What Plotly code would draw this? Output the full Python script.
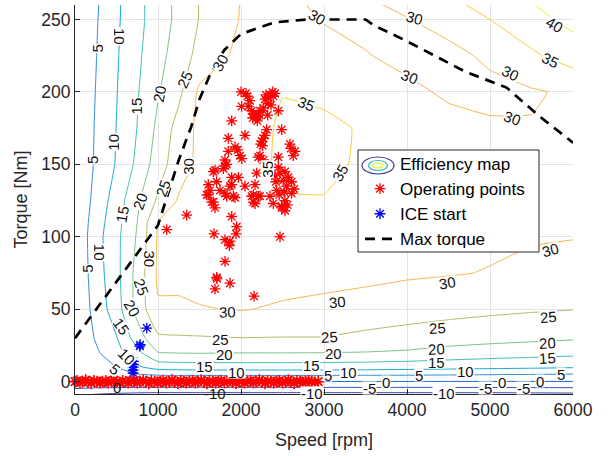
import plotly.graph_objects as go

# ---------------- data ----------------
speed_grid = [0, 250, 500, 750, 1000, 1250, 1500, 2000, 2500, 3000, 3500, 4000, 4500, 5000, 5500, 6000]
torque_grid = [-10, -5, 0, 5, 10, 20, 30, 50, 75, 100, 110, 125, 150, 175, 200, 225, 250, 260]

# efficiency [%] for each torque row (ascending) and speed column
eff_grid = [
    [-10.5, -11.5, -12.5, -13.2, -13.5, -13.5, -13.5, -13.5, -13.5, -13.5, -13.5, -13.5, -13.5, -13.5, -13.3, -13.0],
    [-5.3, -5.8, -6.1, -6.2, -6.3, -6.3, -6.3, -6.3, -6.3, -6.3, -6.3, -6.3, -6.2, -6.2, -6.1, -6.0],
    [-0.2, -0.2, -0.2, -0.2, -0.2, -0.2, -0.2, -0.2, -0.2, -0.2, -0.2, -0.2, -0.2, -0.2, -0.2, -0.2],
    [0.1, 1.5, 3.0, 4.8, 5.6, 5.8, 5.8, 5.8, 5.8, 5.8, 5.7, 5.6, 5.4, 5.2, 5.0, 4.7],
    [0.2, 2.5, 5.0, 9.2, 12.0, 12.4, 12.6, 12.7, 12.7, 12.6, 12.4, 12.0, 11.6, 11.2, 10.8, 10.4],
    [0.3, 4.2, 8.3, 13.6, 19.9, 20.2, 20.3, 20.1, 20.1, 20.0, 19.8, 19.4, 18.4, 17.6, 17.0, 16.4],
    [0.4, 5.4, 9.7, 17.4, 24.2, 24.5, 24.6, 24.9, 24.8, 24.8, 23.7, 22.8, 22.0, 21.5, 21.0, 20.5],
    [0.5, 6.7, 12.7, 21.7, 29.5, 29.4, 29.8, 30.2, 29.5, 29.0, 28.4, 27.5, 26.7, 26.0, 25.5, 25.1],
    [0.5, 7.6, 13.5, 21.7, 30.8, 31.0, 31.3, 31.8, 31.6, 31.3, 31.0, 30.6, 30.3, 29.8, 28.8, 27.8],
    [0.5, 8.0, 13.7, 20.5, 30.6, 31.3, 31.8, 32.8, 33.3, 33.0, 32.5, 32.0, 31.3, 30.8, 30.4, 30.2],
    [0.5, 7.5, 13.2, 20.0, 30.2, 31.2, 31.7, 32.9, 33.8, 33.7, 32.9, 32.2, 31.5, 31.0, 30.6, 30.6],
    [0.5, 6.5, 12.4, 19.1, 25.8, 30.5, 31.5, 33.0, 34.8, 34.8, 33.3, 32.5, 31.8, 31.2, 31.0, 31.3],
    [0.5, 5.6, 10.4, 16.1, 22.6, 28.0, 31.0, 33.3, 35.6, 36.0, 34.3, 33.0, 32.2, 31.7, 31.5, 32.3],
    [0.5, 5.4, 10.1, 15.1, 21.1, 27.0, 31.2, 33.2, 35.5, 36.0, 34.5, 33.0, 31.8, 30.8, 30.3, 32.5],
    [0.5, 5.1, 9.8, 14.6, 19.6, 23.8, 31.0, 32.7, 34.9, 34.0, 32.5, 31.2, 29.2, 28.5, 29.5, 30.8],
    [0.5, 4.8, 9.5, 14.1, 18.2, 22.6, 26.4, 31.5, 32.0, 32.0, 30.3, 28.5, 28.5, 31.0, 34.2, 37.2],
    [0.5, 4.5, 9.2, 13.6, 17.5, 21.3, 25.2, 30.3, 31.5, 29.7, 28.5, 29.8, 32.0, 35.0, 38.3, 41.5],
    [0.5, 4.3, 9.1, 13.6, 17.5, 21.3, 25.2, 30.2, 31.0, 29.3, 29.2, 31.1, 33.8, 36.6, 39.8, 42.0],
]

max_speed = [0, 1000, 1250, 1400, 1500, 1650, 1800, 2000, 2400, 2800, 3500, 3600, 4000, 4700, 5200, 5600, 6000]
max_torque = [30, 108, 153, 176, 195, 215, 229, 240, 248, 250, 250, 246, 235, 214, 203, 183, 165]

op_speed = [2000, 2076, 2108, 2008, 2088, 2128, 2169, 2221, 2197, 2141,
            2229, 2289, 2349, 2389, 2410, 2329, 2269, 2321, 2361, 2450,
            2380, 2150, 2200, 2060, 2330, 2300,
            1888, 1847, 2048, 1928, 1847, 1988, 1960, 2010, 2309, 2269,
            2237, 2289, 2250, 2229, 2209, 2269, 2490, 2590, 2651, 2630,
            2450, 2260, 2600,
            1807, 1787, 1827, 1807, 1667, 1707, 1606, 1888, 1968, 1888,
            2048, 2189, 2169, 2450, 2470, 2410, 2530, 2570, 2510, 2550,
            2610, 2530, 2610, 2640, 2209, 2129, 2169, 2389, 2490, 2349,
            2430, 2420, 2460, 2520, 1747, 1807, 1908, 1867, 1627, 1667,
            1587, 1687, 1606, 1828, 1928, 1647, 1687, 2149, 2229, 2149,
            2490, 2530, 2560,
            1346, 1888, 1948, 1940, 1105, 1675, 1807, 1867, 1860, 2470,
            1807, 1707, 1687, 1867, 2157, 1710]
op_torque = [200, 197, 194, 190, 190, 187, 184, 184, 180, 182,
             187, 195, 198, 197, 199, 192, 189, 184, 191, 187,
             200, 185, 183, 199, 196, 198,
             180, 168, 170, 162, 159, 156, 160, 154, 174, 168,
             164, 170, 166, 156, 155, 153, 174, 164, 159, 156,
             155, 163, 161,
             149, 147, 150, 153, 145, 138, 136, 141, 141, 136,
             135, 144, 136, 148, 144, 142, 145, 141, 139, 135,
             130, 125, 138, 133, 128, 128, 123, 123, 121, 128,
             132, 138, 129, 131, 132, 130, 128, 135, 132, 124,
             129, 146, 129, 128, 127, 124, 120, 129, 128, 124,
             120, 118, 122,
             115, 114, 107, 102, 105, 102, 98, 97, 94, 100,
             83, 72, 64, 68, 59, 71]

idle_speed = [0, 25, 60, 90, 130, 160, 195, 230, 265, 300,
              330, 370, 400, 440, 470, 505, 540, 575, 610, 640,
              680, 715, 750, 780, 820, 855, 890, 920, 960, 995,
              1030, 1060, 1100, 1135, 1170, 1200, 1240, 1275, 1310, 1340,
              1380, 1415, 1450, 1480, 1520, 1555, 1590, 1620, 1660, 1695,
              1730, 1760, 1800, 1835, 1870, 1900, 1940, 1975, 2010, 2040,
              2080, 2115, 2150, 2180, 2220, 2255, 2290, 2320, 2360, 2395,
              2430, 2460, 2500, 2535, 2570, 2600, 2640, 2675, 2710, 2740,
              2780, 2815, 2850, 2890, 2930]
idle_torque = [0, 0.5, -0.5, 0, 1, 0, -1, 0.5, 0, -0.5,
               0, 0.5, -0.5, 0, 1, 0, -1, 0.5, 0, -0.5,
               0, 0.5, -0.5, 0, 1, 0, -1, 0.5, 0, -0.5,
               0, 0.5, -0.5, 0, 1, 0, -1, 0.5, 0, -0.5,
               0, 0.5, -0.5, 0, 1, 0, -1, 0.5, 0, -0.5,
               0, 0.5, -0.5, 0, 1, 0, -1, 0.5, 0, -0.5,
               0, 0.5, -0.5, 0, 1, 0, -1, 0.5, 0, -0.5,
               0, 0.5, -0.5, 0, 1, 0, -1, 0.5, 0, -0.5,
               0, 0.5, 0, -0.5, 0]

ice_speed = [700, 700, 700, 700, 705, 780, 785, 865]
ice_torque = [6, 8, 10, 12, 14, 24.5, 25.5, 37]

# contour level labels: text, speed, torque, rotation (white background)
label_text = ['5', '10', '15', '20', '25', '30', '5', '10', '15', '20', '25', '30', '35',
              '35', '35', '30', '30', '30', '30', '30', '35', '40',
              '30', '30', '30', '30', '25', '25', '25', '25', '20', '20', '20', '20',
              '15', '15', '15', '15', '10', '10', '10',
              '5', '0', '-5', '-10', '5', '0', '-5', '-10', '5', '0', '-5',
              '5', '10', '15', '20', '25', '30', '5', '10']
label_speed = [277, 542, 747, 1024, 1325, 1747, 217, 458, 566, 783, 1060, 1361, 2313,
               2795, 3193, 2916, 4096, 4036, 5241, 5265, 5723, 5783,
               5723, 4482, 3157, 1843, 5699, 4373, 3072, 1747, 5687, 4361, 3120, 1800,
               5687, 4361, 2850, 1560, 3300, 4700, 1950,
               3050, 3750, 3550, 2850, 4150, 5150, 4950, 4450, 5850, 5600, 5400,
               480, 626, 566, 687, 807, 904, 145, 300]
label_torque = [230, 238, 190, 199, 209, 220, 153, 165, 116, 125, 134, 149, 147,
                192, 144, 252, 251, 210, 213, 182, 222, 246,
                91, 68, 55, 48, 44.7, 37, 31, 29.5, 26.7, 22.5, 19.5, 19,
                16.4, 13.6, 11.5, 11, 7, 7.4, 6.7,
                4.5, 0, -4.2, -7.7, 4.6, 0, -4.5, -7.7, 5.6, 0.3, -4.5,
                9, 17, 38, 51, 65, 85, 78, 89]
label_angle = [-90, 90, -90, -80, -65, -60, -90, -90, -80, -70, -70, -90, -90,
               20, -60, 30, 15, 20, 25, 20, 25, 30,
               -15, -10, -5, -2, -5, -3, -3, 0, -3, -3, 0, 0,
               -3, 0, 0, 0, 0, 0, 0,
               0, 0, 0, 0, 0, 0, 0, 0, 0, 0, 0,
               40, 45, 55, 60, 70, 90, -90, 90]

# labels lying under the idle band (no background)
under_text = ['0', '-10']
under_speed = [506, 1687]
under_torque = [-3.6, -8]

x_ticks = [0, 1000, 2000, 3000, 4000, 5000, 6000]
y_ticks = [0, 50, 100, 150, 200, 250]

level_colors = ['#3b3fa8', '#2a55d0', '#1467dc', '#2a8ae0', '#10a9d3', '#3cbfae',
                '#78c186', '#b2bd60', '#f1b94a', '#f9cf2e', '#f0ef1e']

# ---------------- figure ----------------
AX = '#262626'
FONT = 'Liberation Sans, Arial, Helvetica, sans-serif'
L, R, T, B = 75, 35, 5, 62
W, H = 608, 456
PW, PH = W - L - R, H - T - B


def px2paper_x(px):
    return (px - L) / PW


def px2paper_y(py):
    return (H - B - py) / PH


colorscale = [[i / 10, c] for i, c in enumerate(level_colors)]

fig = go.Figure()
fig.add_trace(go.Contour(
    x=speed_grid, y=torque_grid, z=eff_grid,
    contours=dict(start=-10, end=40, size=5, coloring='lines', showlabels=False),
    line=dict(width=1, smoothing=0.3),
    colorscale=colorscale, zmin=-10, zmax=40, zauto=False,
    showscale=False, showlegend=False, hoverinfo='skip'))

# dummy trace for legend entry of the efficiency map
fig.add_trace(go.Scatter(x=[None], y=[None], mode='lines', name='Efficiency map',
                         line=dict(color='rgba(0,0,0,0)', width=1)))

fig.add_trace(go.Scatter(x=op_speed, y=op_torque, mode='markers', name='Operating points',
                         marker=dict(symbol='asterisk-open', size=9, color='red',
                                     line=dict(color='red', width=1.3))))
fig.add_trace(go.Scatter(x=ice_speed, y=ice_torque, mode='markers', name='ICE start',
                         marker=dict(symbol='asterisk-open', size=9, color='blue',
                                     line=dict(color='blue', width=1.3))))
fig.add_trace(go.Scatter(x=max_speed, y=max_torque, mode='lines', name='Max torque',
                         line=dict(color='black', width=2.7, dash='10px,7px')))
fig.add_trace(go.Scatter(x=idle_speed, y=idle_torque, mode='markers', showlegend=False,
                         cliponaxis=False,
                         marker=dict(symbol='asterisk-open', size=10, color='red',
                                     line=dict(color='red', width=1.6))))

annotations = []
for t, sx, ty, ang in zip(label_text, label_speed, label_torque, label_angle):
    annotations.append(dict(x=sx, y=ty, xref='x', yref='y', text=t, showarrow=False,
                            textangle=ang, bgcolor='white', borderpad=0, height=12,
                            font=dict(size=15, color='#111111', family=FONT)))
for t, sx, ty in zip(under_text, under_speed, under_torque):
    annotations.append(dict(x=sx, y=ty, xref='x', yref='y', text=t, showarrow=False,
                            borderpad=0, height=12,
                            font=dict(size=15, color='#111111', family=FONT)))

# legend frame and icon (legend itself transparent, drawn above)
shapes = [dict(type='rect', xref='paper', yref='paper', layer='above',
               x0=px2paper_x(358), x1=px2paper_x(539), y0=px2paper_y(252), y1=px2paper_y(150),
               fillcolor='white', line=dict(color=AX, width=1))]
icon = [((362, 157, 394, 174), '#3a3a9e'),
        ((368.5, 160.5, 387.5, 170.5), '#33b8aa'),
        ((373, 163, 383, 168), '#e8e820')]
for (x0, y0, x1, y1), col in icon:
    shapes.append(dict(type='circle', xref='paper', yref='paper', layer='above',
                       x0=px2paper_x(x0), x1=px2paper_x(x1),
                       y0=px2paper_y(y1), y1=px2paper_y(y0),
                       line=dict(color=col, width=1.2)))

fig.update_layout(
    width=W, height=H,
    margin=dict(l=L, r=R, t=T, b=B, autoexpand=False),
    paper_bgcolor='white', plot_bgcolor='white',
    font=dict(family=FONT, size=17, color=AX),
    showlegend=True,
    legend=dict(x=px2paper_x(360), y=px2paper_y(146), xanchor='left', yanchor='top',
                bgcolor='rgba(0,0,0,0)', borderwidth=0,
                font=dict(size=17, color='black', family=FONT),
                tracegroupgap=0, itemwidth=30),
    shapes=shapes,
    annotations=annotations,
    xaxis=dict(range=[0, 6000], tickvals=x_ticks, ticktext=[str(v) for v in x_ticks],
               showgrid=True, gridcolor='#e3e3e3', gridwidth=1, zeroline=False,
               showline=True, linecolor=AX, linewidth=1, mirror=False,
               ticks='inside', ticklen=5, tickcolor=AX, automargin=False,
               tickfont=dict(size=17.5, color=AX),
               title=dict(text='Speed [rpm]', font=dict(size=18, color=AX), standoff=14)),
    yaxis=dict(range=[-8.5, 260], tickvals=y_ticks, ticktext=[str(v) for v in y_ticks],
               showgrid=True, gridcolor='#e3e3e3', gridwidth=1, zeroline=False,
               showline=True, linecolor=AX, linewidth=1, mirror=False,
               ticks='inside', ticklen=5, tickcolor=AX, automargin=False,
               tickfont=dict(size=17.5, color=AX),
               title=dict(text='Torque [Nm]', font=dict(size=18, color=AX), standoff=8)),
)

fig.write_html('out.html', config={'displayModeBar': False},
               post_script="document.body.style.margin='0px';")
